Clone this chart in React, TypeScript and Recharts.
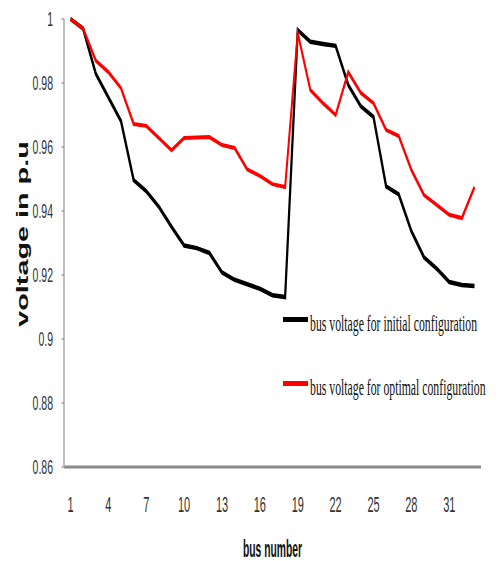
import { Label, Legend, Line, LineChart, XAxis, YAxis } from "recharts"

// bus numbers of the 33-bus feeder
const buses = [
  1, 2, 3, 4, 5, 6, 7, 8, 9, 10, 11, 12, 13, 14, 15, 16, 17,
  18, 19, 20, 21, 22, 23, 24, 25, 26, 27, 28, 29, 30, 31, 32, 33,
]

const initialVoltage = [
  1.0, 0.997, 0.9829, 0.9755, 0.9681, 0.9497, 0.9462, 0.9413, 0.9351, 0.9292, 0.9284,
  0.9269, 0.9208, 0.9185, 0.9171, 0.9157, 0.9137, 0.9131, 0.9965, 0.9929, 0.9922,
  0.9916, 0.9794, 0.9727, 0.9694, 0.9477, 0.9452, 0.9337, 0.9255, 0.922, 0.9178,
  0.9169, 0.9166,
]

const optimalVoltage = [
  1.0, 0.997, 0.987, 0.9834, 0.9784, 0.9672, 0.9666, 0.9628, 0.959, 0.9628, 0.963,
  0.9631, 0.9606, 0.9597, 0.953, 0.951, 0.9484, 0.9475, 0.9956, 0.9778, 0.9737,
  0.970, 0.9834, 0.9769, 0.9737, 0.9653, 0.9634, 0.9528, 0.945, 0.9419, 0.9388,
  0.9378, 0.9475,
]

const voltageTicks = [0.86, 0.88, 0.9, 0.92, 0.94, 0.96, 0.98, 1]

const series = [
  { key: "initial", color: "#000000", width: 4.5, label: "bus voltage for initial configuration" },
  { key: "optimal", color: "#ff0000", width: 4, label: "bus voltage for optimal configuration" },
]

const data = buses.map((bus, i) => ({
  bus,
  initial: initialVoltage[i],
  optimal: optimalVoltage[i],
}))

// the source picture is squashed sideways, so draw wide and squeeze
const SQUEEZE = 0.5
const WIDTH = 998
const HEIGHT = 561
const SANS = "'Liberation Sans', Arial, sans-serif"

function YTitle(props: any) {
  const vb = props.viewBox
  const cx = vb.x + 46
  const cy = vb.y + vb.height / 2 - 9
  return (
    <text
      transform={`translate(${cx},${cy}) rotate(-90) scale(0.9,1)`}
      textAnchor="middle"
      dominantBaseline="central"
      fontFamily={SANS}
      fontWeight="bold"
      fontSize={32}
      fill="#111"
    >
      voltage in p.u
    </text>
  )
}

function XTitle(props: any) {
  const vb = props.viewBox
  const cx = vb.x + vb.width / 2
  return (
    <text
      transform={`translate(${cx},${vb.y + 90}) scale(0.86,1)`}
      textAnchor="middle"
      fontFamily={SANS}
      fontWeight="bold"
      fontSize={24}
      fill="#111"
    >
      bus number
    </text>
  )
}

function LegendBox() {
  return (
    <div
      style={{
        fontFamily: "'Liberation Serif', 'Times New Roman', serif",
        fontSize: 23.5,
        color: "#111",
      }}
    >
      {series.map((s, i) => (
        <div
          key={s.key}
          style={{ position: "relative", height: 30, marginTop: i ? 34 : 0, whiteSpace: "nowrap" }}
        >
          <div
            style={{ position: "absolute", left: 0, top: 9, width: 50, height: 5, background: s.color }}
          />
          <span style={{ position: "absolute", left: 54, top: 0, lineHeight: "30px" }}>{s.label}</span>
        </div>
      ))}
    </div>
  )
}

export default function App() {
  return (
    <div
      style={{
        position: "absolute",
        left: 0,
        top: 0,
        width: 499,
        height: HEIGHT,
        overflow: "hidden",
        background: "#fff",
      }}
    >
      <div style={{ width: WIDTH, height: HEIGHT, transform: `scaleX(${SQUEEZE})`, transformOrigin: "0 0" }}>
        <LineChart
          width={WIDTH}
          height={HEIGHT}
          data={data}
          margin={{ top: 19, right: 36, bottom: 0, left: 0 }}
        >
          <XAxis
            dataKey="bus"
            interval={2}
            height={94}
            padding={{ left: 13, right: 13 }}
            tickLine={false}
            tickSize={6}
            tickMargin={23}
            axisLine={{ stroke: "#8a8a8a", strokeWidth: 3 }}
            tick={{ fontSize: 22, fill: "#333", fontFamily: SANS }}
          >
            <Label content={<XTitle />} />
          </XAxis>
          <YAxis
            domain={[0.86, 1]}
            ticks={voltageTicks}
            width={128}
            tickSize={5}
            tickMargin={17}
            tickLine={{ stroke: "#a0a0a0", strokeWidth: 1.5 }}
            axisLine={{ stroke: "#a8a8a8", strokeWidth: 3 }}
            tick={{ fontSize: 21, fill: "#333", fontFamily: SANS }}
          >
            <Label content={<YTitle />} />
          </YAxis>
          <Legend
            layout="horizontal"
            verticalAlign="middle"
            align="center"
            content={() => <LegendBox />}
            wrapperStyle={{ left: 566, top: 308, width: 420 }}
          />
          {series.map((s) => (
            <Line
              key={s.key}
              type="linear"
              dataKey={s.key}
              name={s.label}
              stroke={s.color}
              strokeWidth={s.width}
              dot={false}
              activeDot={false}
              isAnimationActive={false}
            />
          ))}
        </LineChart>
      </div>
    </div>
  )
}
